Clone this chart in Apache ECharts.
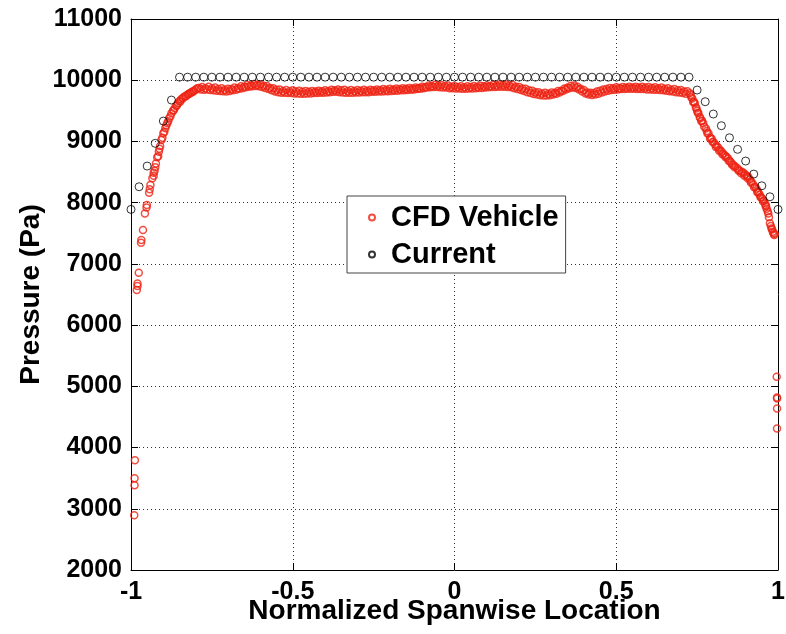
<!DOCTYPE html>
<html>
<head>
<meta charset="utf-8">
<script src="https://cdn.jsdelivr.net/npm/echarts@6/dist/echarts.min.js"></script>
<style>
  html, body { margin: 0; padding: 0; background: #fff; }
  #chart { width: 786px; height: 634px; }
</style>
</head>
<body>
<div id="chart"></div>
<script>
// Spanwise pressure: CFD vehicle samples vs. current model
const xTicks = [-1, -0.5, 0, 0.5, 1];
const yTicks = [2000, 3000, 4000, 5000, 6000, 7000, 8000, 9000, 10000, 11000];

// CFD Vehicle samples, upper row (normalized spanwise location, pressure in Pa)
const cfdX = [
  -0.990, -0.989, -0.989, -0.988,
  -0.982, -0.980, -0.980, -0.976, -0.969, -0.968, -0.963, -0.957, -0.952, -0.951,
  -0.944, -0.942, -0.940, -0.934, -0.930, -0.927, -0.923, -0.919, -0.914, -0.910,
  -0.906, -0.900, -0.894, -0.888, -0.882, -0.875, -0.870, -0.865, -0.860, -0.855,
  -0.850, -0.845, -0.838, -0.832, -0.825, -0.819, -0.812, -0.805, -0.800, -0.795,
  -0.79, -0.78, -0.77, -0.76, -0.75, -0.74, -0.73, -0.72, -0.71, -0.70,
  -0.69, -0.68, -0.67, -0.66, -0.65, -0.64, -0.63, -0.62, -0.61, -0.60,
  -0.59, -0.58, -0.57, -0.56, -0.55, -0.54, -0.53, -0.52, -0.51, -0.50,
  -0.49, -0.48, -0.47, -0.46, -0.45, -0.44, -0.43, -0.42, -0.41, -0.40,
  -0.39, -0.38, -0.37, -0.36, -0.35, -0.34, -0.33, -0.32, -0.31, -0.30,
  -0.29, -0.28, -0.27, -0.26, -0.25, -0.24, -0.23, -0.22, -0.21, -0.20,
  -0.19, -0.18, -0.17, -0.16, -0.15, -0.14, -0.13, -0.12, -0.11, -0.10,
  -0.09, -0.08, -0.07, -0.06, -0.05, -0.04, -0.03, -0.02, -0.01, 0.00,
  0.01, 0.02, 0.03, 0.04, 0.05, 0.06, 0.07, 0.08, 0.09, 0.10,
  0.11, 0.12, 0.13, 0.14, 0.15, 0.16, 0.17, 0.18, 0.19, 0.20,
  0.21, 0.22, 0.23, 0.24, 0.25, 0.26, 0.27, 0.28, 0.29, 0.30,
  0.31, 0.32, 0.33, 0.34, 0.35, 0.36, 0.37, 0.38, 0.39, 0.40,
  0.41, 0.42, 0.43, 0.44, 0.45, 0.46, 0.47, 0.48, 0.49, 0.50,
  0.51, 0.52, 0.53, 0.54, 0.55, 0.56, 0.57, 0.58, 0.59, 0.60,
  0.61, 0.62, 0.63, 0.64, 0.65, 0.66, 0.67, 0.68, 0.69, 0.70,
  0.71, 0.72,
  0.727, 0.730, 0.735, 0.740, 0.743, 0.748, 0.750, 0.754, 0.760, 0.765,
  0.769, 0.777, 0.780, 0.785, 0.792, 0.795, 0.800, 0.805, 0.810, 0.815,
  0.821, 0.826, 0.831, 0.836, 0.841, 0.846, 0.851, 0.856, 0.862, 0.868,
  0.875, 0.880, 0.888, 0.893, 0.898, 0.903, 0.908, 0.913, 0.918, 0.923,
  0.929, 0.933, 0.937, 0.940, 0.944, 0.948, 0.952, 0.956, 0.960, 0.963,
  0.965, 0.968, 0.970, 0.975, 0.978, 0.980, 0.984, 0.986, 0.988,
  0.996, 0.997, 0.997, 0.997, 0.997
];
const cfdP = [
  2895, 3386, 3500, 3794,
  6572, 6637, 6681, 6855, 7345, 7389, 7552, 7825, 7920, 7961,
  8162, 8220, 8288, 8400, 8489, 8520, 8640, 8740, 8832, 8925,
  9023, 9132, 9214, 9296, 9378, 9459, 9500, 9541, 9580, 9623,
  9660, 9688, 9720, 9742, 9765, 9786, 9810, 9828, 9850, 9867,
  9875, 9890, 9870, 9895, 9870, 9880, 9855, 9870, 9845, 9860,
  9855, 9880, 9870, 9900, 9895, 9920, 9915, 9940, 9925, 9935,
  9910, 9905, 9875, 9870, 9845, 9850, 9825, 9840, 9820, 9835,
  9815, 9830, 9810, 9825, 9810, 9825, 9815, 9830, 9820, 9835,
  9825, 9845, 9835, 9850, 9835, 9845, 9825, 9840, 9825, 9840,
  9830, 9845, 9830, 9845, 9835, 9850, 9840, 9855, 9845, 9860,
  9850, 9865, 9855, 9870, 9860, 9875, 9865, 9880, 9875, 9895,
  9890, 9915, 9905, 9925, 9915, 9920, 9905, 9915, 9895, 9905,
  9890, 9900, 9885, 9900, 9890, 9905, 9895, 9910, 9900, 9915,
  9905, 9925, 9915, 9930, 9920, 9930, 9915, 9920, 9895, 9890,
  9865, 9860, 9835, 9830, 9805, 9805, 9785, 9795, 9780, 9800,
  9795, 9825, 9830, 9865, 9880, 9910, 9915, 9895, 9860, 9840,
  9800, 9795, 9790, 9815, 9830, 9850, 9855, 9875, 9870, 9885,
  9875, 9890, 9880, 9895, 9880, 9895, 9880, 9895, 9880, 9890,
  9875, 9885, 9870, 9880, 9860, 9870, 9845, 9855, 9835, 9840,
  9815, 9820,
  9786, 9760, 9700, 9650, 9623, 9540, 9500, 9459, 9380, 9340,
  9296, 9210, 9170, 9132, 9060, 9040, 8995, 8960, 8930, 8900,
  8860, 8830, 8800, 8770, 8750, 8720, 8680, 8650, 8614, 8590,
  8560, 8530, 8505, 8490, 8465, 8440, 8423, 8380, 8340, 8300,
  8260, 8230, 8190, 8160, 8124, 8090, 8060, 8030, 7988, 7950,
  7900, 7860, 7825, 7662, 7620, 7580, 7525, 7500, 7471,
  5155, 4818, 4800, 4639, 4312
];

// CFD Vehicle samples, lower row interleaved with the upper one
const cfdLowX = [
  -0.930, -0.925, -0.916, -0.912, -0.903, -0.897, -0.891, -0.885, -0.878, -0.868,
  -0.858, -0.848, -0.840, -0.830, -0.822, -0.815, -0.808,
  -0.785, -0.775, -0.765, -0.755, -0.745, -0.735, -0.725, -0.715, -0.705, -0.695,
  -0.685, -0.675, -0.665, -0.655, -0.645, -0.635, -0.625, -0.615, -0.605, -0.595,
  -0.585, -0.575, -0.565, -0.555, -0.545, -0.535, -0.525, -0.515, -0.505, -0.495,
  -0.485, -0.475, -0.465, -0.455, -0.445, -0.435, -0.425, -0.415, -0.405, -0.395,
  -0.385, -0.375, -0.365, -0.355, -0.345, -0.335, -0.325, -0.315, -0.305, -0.295,
  -0.285, -0.275, -0.265, -0.255, -0.245, -0.235, -0.225, -0.215, -0.205, -0.195,
  -0.185, -0.175, -0.165, -0.155, -0.145, -0.135, -0.125, -0.115, -0.105, -0.095,
  -0.085, -0.075, -0.065, -0.055, -0.045, -0.035, -0.025, -0.015, -0.005, 0.005,
  0.015, 0.025, 0.035, 0.045, 0.055, 0.065, 0.075, 0.085, 0.095, 0.105,
  0.115, 0.125, 0.135, 0.145, 0.155, 0.165, 0.175, 0.185, 0.195, 0.205,
  0.215, 0.225, 0.235, 0.245, 0.255, 0.265, 0.275, 0.285, 0.295, 0.305,
  0.315, 0.325, 0.335, 0.345, 0.355, 0.365, 0.375, 0.385, 0.395, 0.405,
  0.415, 0.425, 0.435, 0.445, 0.455, 0.465, 0.475, 0.485, 0.495, 0.505,
  0.515, 0.525, 0.535, 0.545, 0.555, 0.565, 0.575, 0.585, 0.595, 0.605,
  0.615, 0.625, 0.635, 0.645, 0.655, 0.665, 0.675, 0.685, 0.695, 0.705,
  0.715,
  0.732, 0.738, 0.746, 0.752, 0.758, 0.763, 0.772, 0.782, 0.790, 0.798,
  0.808, 0.818, 0.828, 0.838, 0.848, 0.858, 0.866, 0.878, 0.886, 0.896,
  0.906, 0.916, 0.926, 0.936, 0.946, 0.954, 0.962, 0.972, 0.982, 0.990
];
const cfdLowP = [
  8440, 8580, 8760, 8880, 9060, 9160, 9260, 9330, 9410, 9510,
  9590, 9650, 9700, 9740, 9770, 9790, 9810,
  9850, 9845, 9850, 9840, 9835, 9830, 9825, 9820, 9815, 9825,
  9835, 9845, 9860, 9870, 9885, 9895, 9900, 9905, 9900, 9890,
  9875, 9855, 9835, 9815, 9805, 9795, 9795, 9790, 9790, 9785,
  9785, 9780, 9780, 9785, 9785, 9790, 9790, 9795, 9795, 9800,
  9805, 9810, 9810, 9805, 9800, 9795, 9795, 9795, 9800, 9800,
  9805, 9805, 9805, 9810, 9810, 9815, 9815, 9820, 9820, 9825,
  9830, 9830, 9835, 9835, 9840, 9845, 9850, 9855, 9860, 9870,
  9880, 9885, 9890, 9890, 9885, 9880, 9880, 9870, 9870, 9865,
  9865, 9860, 9860, 9865, 9865, 9870, 9875, 9875, 9880, 9885,
  9890, 9890, 9895, 9895, 9895, 9890, 9885, 9870, 9855, 9840,
  9825, 9805, 9790, 9775, 9765, 9755, 9750, 9750, 9755, 9765,
  9780, 9800, 9825, 9850, 9870, 9880, 9875, 9850, 9815, 9785,
  9765, 9760, 9765, 9780, 9800, 9815, 9830, 9840, 9845, 9850,
  9855, 9855, 9860, 9860, 9860, 9855, 9855, 9855, 9850, 9850,
  9845, 9845, 9840, 9835, 9830, 9820, 9815, 9805, 9800, 9790,
  9780,
  9720, 9640, 9560, 9470, 9400, 9330, 9240, 9130, 9050, 8990,
  8910, 8850, 8790, 8740, 8680, 8620, 8580, 8520, 8480, 8440,
  8400, 8330, 8250, 8170, 8090, 8020, 7940, 7760, 7560, 7490
];

// Current model (normalized spanwise location, pressure in Pa)
const curX = [
  -1.000, -0.975, -0.950, -0.925, -0.900, -0.875, -0.850, -0.825, -0.800, -0.775,
  -0.750, -0.725, -0.700, -0.675, -0.650, -0.625, -0.600, -0.575, -0.550, -0.525,
  -0.500, -0.475, -0.450, -0.425, -0.400, -0.375, -0.350, -0.325, -0.300, -0.275,
  -0.250, -0.225, -0.200, -0.175, -0.150, -0.125, -0.100, -0.075, -0.050, -0.025,
  0.000, 0.025, 0.050, 0.075, 0.100, 0.125, 0.150, 0.175, 0.200, 0.225,
  0.250, 0.275, 0.300, 0.325, 0.350, 0.375, 0.400, 0.425, 0.450, 0.475,
  0.500, 0.525, 0.550, 0.575, 0.600, 0.625, 0.650, 0.675, 0.700, 0.725,
  0.750, 0.775, 0.800, 0.825, 0.850, 0.875, 0.900, 0.925, 0.950, 0.975,
  1.000
];
const curP = [
  7890, 8260, 8598, 8969, 9333, 9676, 10050, 10050, 10050, 10050,
  10050, 10050, 10050, 10050, 10050, 10050, 10050, 10050, 10050, 10050,
  10050, 10050, 10050, 10050, 10050, 10050, 10050, 10050, 10050, 10050,
  10050, 10050, 10050, 10050, 10050, 10050, 10050, 10050, 10050, 10050,
  10050, 10050, 10050, 10050, 10050, 10050, 10050, 10050, 10050, 10050,
  10050, 10050, 10050, 10050, 10050, 10050, 10050, 10050, 10050, 10050,
  10050, 10050, 10050, 10050, 10050, 10050, 10050, 10050, 10050, 10050,
  9840, 9649, 9448, 9257, 9060, 8871, 8680, 8467, 8276, 8096,
  7890
];

const seriesNames = ['CFD Vehicle', 'Current'];
const seriesColors = ['#ee2211', '#000000'];

const FONT = "'Liberation Sans', Arial, Helvetica, sans-serif";
const pairs = (xs, ys) => xs.map((x, i) => [x, ys[i]]);

const chart = echarts.init(document.getElementById('chart'), null, { renderer: 'canvas' });

const gridLine = { show: true, lineStyle: { color: '#333', width: 1, type: [1, 3] } };
const frameLine = { show: true, onZero: false, lineStyle: { color: '#000', width: 1 } };
const innerTick = { show: true, inside: true, length: 7, lineStyle: { color: '#000', width: 1 } };
const tickFont = { color: '#000', fontFamily: FONT, fontWeight: 'bold', fontSize: 25 };
const titleFont = { color: '#000', fontFamily: FONT, fontWeight: 'bold', fontSize: 28 };

chart.setOption({
  animation: false,
  backgroundColor: '#fff',
  grid: { left: 131, right: 8, top: 19, bottom: 64, containLabel: false, outerBoundsMode: 'none' },
  xAxis: [
    {
      type: 'value', min: xTicks[0], max: xTicks[xTicks.length - 1], interval: 0.5,
      position: 'bottom',
      axisLine: frameLine, axisTick: innerTick, splitLine: gridLine,
      axisLabel: Object.assign({ margin: 10, formatter: v => String(v) }, tickFont),
      name: 'Normalized Spanwise Location', nameLocation: 'middle', nameGap: 27,
      nameMoveOverlap: false,
      nameTextStyle: titleFont
    },
    {
      type: 'value', min: xTicks[0], max: xTicks[xTicks.length - 1], interval: 0.5,
      position: 'top',
      axisLine: frameLine, axisTick: innerTick, splitLine: { show: false },
      axisLabel: { show: false }
    }
  ],
  yAxis: [
    {
      type: 'value', min: yTicks[0], max: yTicks[yTicks.length - 1], interval: 1000,
      position: 'left',
      axisLine: frameLine, axisTick: innerTick, splitLine: gridLine,
      axisLabel: Object.assign({ margin: 9, formatter: v => String(v) }, tickFont),
      name: 'Pressure (Pa)', nameLocation: 'middle', nameGap: 86,
      nameMoveOverlap: false,
      nameTextStyle: titleFont
    },
    {
      type: 'value', min: yTicks[0], max: yTicks[yTicks.length - 1], interval: 1000,
      position: 'right',
      axisLine: frameLine, axisTick: innerTick, splitLine: { show: false },
      axisLabel: { show: false }
    }
  ],
  legend: {
    orient: 'vertical',
    left: 347, top: 196,
    padding: [7, 7, 4, 21],
    itemGap: 8,
    itemWidth: 28, itemHeight: 6,
    icon: 'circle',
    backgroundColor: '#fff',
    borderColor: '#444', borderWidth: 1,
    textStyle: { color: '#000', fontFamily: FONT, fontWeight: 'bold', fontSize: 29 },
    data: seriesNames
  },
  series: [
    {
      name: seriesNames[0], type: 'scatter',
      symbol: 'circle', symbolSize: 7,
      itemStyle: { color: 'rgba(0,0,0,0)', borderColor: seriesColors[0], borderWidth: 1.5 },
      data: pairs(cfdX, cfdP).concat(pairs(cfdLowX, cfdLowP)), z: 2
    },
    {
      name: seriesNames[1], type: 'scatter',
      symbol: 'circle', symbolSize: 8,
      itemStyle: { color: 'rgba(0,0,0,0)', borderColor: seriesColors[1], borderWidth: 1 },
      data: pairs(curX, curP), z: 3
    }
  ]
});
</script>
</body>
</html>
